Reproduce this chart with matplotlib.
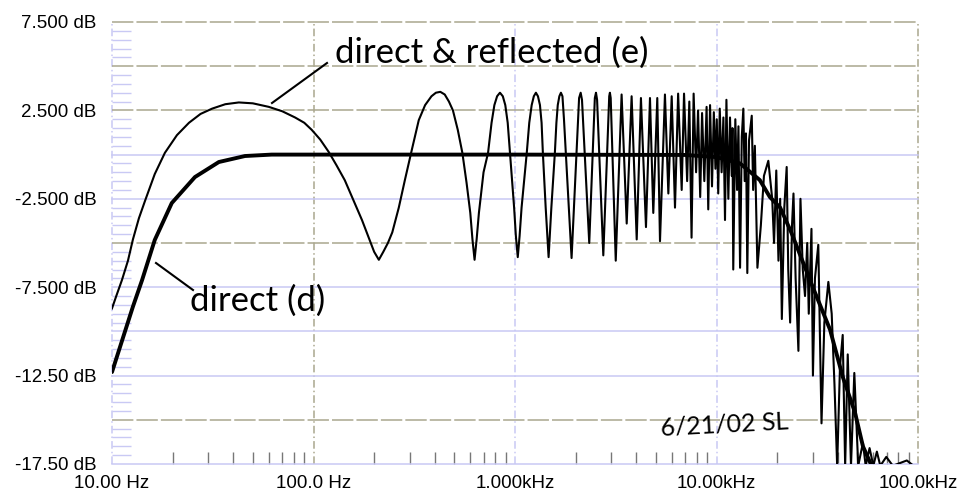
import matplotlib.pyplot as plt
import matplotlib.ticker as mticker

# direct (d) response
freq_direct = [10, 12.7, 14.1, 16.3, 19.8, 25.8, 33.9, 45.7, 62, 1000, 7000,
               10000, 13100, 16400, 18400, 20700, 23500, 29100, 36600, 42400,
               48700, 53300, 57800, 60000]
db_direct = [-12.3, -8.6, -7.1, -4.83, -2.74, -1.27, -0.42, -0.08, 0.0, 0.0, -0.02,
             -0.14, -0.5, -1.44, -2.4, -3.0, -4.4, -7.1, -9.9, -12.6,
             -14.6, -16.5, -17.4, -17.8]

# direct & reflected (e) response: (Hz, dB) pairs
refl_lobes = [
    (10, -8.7), (10.5, -8.0), (11.2, -7.1), (12.0, -6.0), (12.7, -4.8), (13.6, -3.6),
    (14.6, -2.6), (16.3, -1.1), (18.3, 0.1), (21, 1.1), (24.1, 1.8), (27.5, 2.3),
    (31.4, 2.6), (36.5, 2.85), (42.6, 2.95), (50, 2.9), (60, 2.7), (70, 2.45),
    (81, 2.1), (90, 1.8), (98, 1.4), (108, 0.85), (119, 0.15), (130, -0.6),
    (143, -1.45), (158, -2.6), (174, -3.7), (188, -4.7), (200, -5.5), (211, -5.95),
    (222, -5.5), (234, -5.0), (246, -4.4), (265, -3.0), (284, -1.45), (308, 0.3),
    (333, 1.95), (358, 2.8), (385, 3.3), (405, 3.5), (426, 3.55), (448, 3.4),
    (470, 3.0), (492, 2.5), (520, 1.4), (548, 0.1), (575, -1.6), (600, -3.3),
    (615, -4.8), (630, -5.95), (645, -4.8), (662, -3.3), (698, -1.0), (735, 0.1),
    (765, 1.8), (790, 2.8), (815, 3.3), (842, 3.5), (870, 3.3), (895, 2.8),
    (920, 1.8), (944, 0.1), (990, -3.0), (1010, -4.6), (1032, -5.8), (1054, -4.6),
    (1078, -3.0), (1144, 0.1), (1177, 1.8), (1210, 2.8), (1240, 3.3), (1270, 3.5),
    (1300, 3.3), (1330, 2.8), (1355, 1.8), (1375, 0.1), (1420, -3.0), (1468, -5.8),
    (1515, -3.0), (1577, 0.1), (1605, 1.8), (1630, 2.8), (1660, 3.3), (1690, 3.5),
    (1720, 3.3), (1750, 2.0),
]
refl_spikes = [
    (1909, -5.85), (2080, 3.2), (2118, 3.5), (2150, 3.1), (2336, -5.0), (2490, 3.2),
    (2523, 3.5), (2555, 3.1), (2743, -5.7), (2935, 3.3), (2958, 3.5), (2985, 3.2),
    (3162, -6.0), (3381, 3.4), (3584, -3.9), (3791, 3.3), (4018, -4.8), (4217, 3.2),
    (4467, -4.1), (4676, 3.2), (4856, -3.3), (5083, 3.2), (5243, -4.9), (5548, 3.4),
    (5768, -2.2), (5993, 3.3), (6223, -3.0), (6450, 3.45), (6718, -2.0), (6900, 3.45),
    (7150, -1.5), (7330, 3.0), (7520, -4.7), (7700, 3.45), (7920, -1.0), (8100, 2.5),
    (8300, -2.4), (8480, 2.35), (8700, -1.5), (8930, 2.7), (9100, -3.1), (9290, 2.8),
    (9500, -1.8), (9700, 2.4), (9880, -0.8), (10030, 2.0), (10200, -2.2), (10380, 2.6),
    (10600, -1.0), (10820, 2.1), (11020, -3.7), (11200, 3.1), (11450, -2.5),
    (11670, 2.1), (11900, -1.2), (12000, 1.5), (12110, -6.5), (12400, 2.0),
    (12650, -2.0), (12850, 1.6), (13090, -6.4), (13350, 1.0), (13590, 2.6),
    (13800, -1.5), (14000, 1.2), (14220, -6.7), (14500, 0.8), (14960, 2.2),
    (15200, -2.0), (15500, 0.5), (15960, -6.4), (16600, -4.0), (17200, -1.2),
    (18080, -0.35), (18900, -2.5), (19300, -5.0), (19800, -0.9), (20300, -6.0),
    (20700, -2.5), (21100, -9.3), (21700, -3.0), (22300, -0.7), (22700, -6.5),
    (23200, -9.5), (23700, -4.0), (24100, -2.2), (24700, -7.0), (25500, -11.1),
    (26100, -2.5), (26800, -6.5), (27500, -8.0), (28200, -5.0), (28700, -9.0),
    (29600, -4.2), (30100, -12.5), (30800, -7.0), (32000, -5.1), (33200, -15.2),
    (34300, -9.5), (35900, -7.2), (37300, -9.0), (38500, -13.0), (39700, -17.6),
    (41000, -12.0), (42300, -10.2), (43500, -17.6), (44800, -11.3), (46500, -17.6),
    (48300, -12.35), (50500, -17.6), (53300, -16.3), (55000, -17.6), (57500, -16.6),
    (60000, -17.6), (62500, -16.8), (65000, -17.6), (69600, -17.1), (75000, -17.6),
    (88000, -17.3), (95000, -17.6),
]
freq_refl = [f for f, _ in refl_lobes + refl_spikes]
db_refl = [v for _, v in refl_lobes + refl_spikes]

x_ticks = [10, 100, 1000, 10000, 100000]
x_labels = ["10.00 Hz", "100.0 Hz", "1.000kHz", "10.00kHz", "100.0kHz"]
y_ticks = [7.5, 5.0, 2.5, 0.0, -2.5, -5.0, -7.5, -10.0, -12.5, -15.0, -17.5]
y_labels = ["7.500 dB", "", "2.500 dB", "", "-2.500 dB", "", "-7.500 dB", "",
            "-12.50 dB", "", "-17.50 dB"]

olive = "#aaa78e"
blue = "#c9c9f4"
ygrid_colors = [olive, olive, olive, blue, blue, olive, blue, blue, blue, olive, blue]
xgrid_colors = [blue, olive, blue, blue, olive]

fig = plt.figure(figsize=(9.68, 4.97), dpi=100)
ax = fig.add_axes([112 / 968, 1 - 464 / 497, 806 / 968, 442 / 497])

ax.set_xscale("log")
ax.set_xlim(10, 100000)
ax.set_ylim(-17.5, 7.5)

ax.plot(freq_refl, db_refl, color="black", lw=1.5, solid_joinstyle="round", zorder=3)
ax.plot(freq_direct, db_direct, color="black", lw=2.8, solid_capstyle="round", zorder=4)

for s in ax.spines.values():
    s.set_visible(False)

ax.set_xticks(x_ticks)
ax.set_xticklabels(x_labels, fontsize=13.5, fontfamily="Liberation Sans")
ax.set_yticks(y_ticks)
ax.set_yticklabels(y_labels, fontsize=13.5, fontfamily="Liberation Sans")
ax.tick_params(axis="both", which="major", length=0)
ax.tick_params(axis="x", which="major", pad=8)
ax.tick_params(axis="y", which="major", pad=11)

ax.xaxis.set_minor_locator(mticker.LogLocator(base=10, subs=range(2, 10)))
ax.xaxis.set_minor_formatter(mticker.NullFormatter())
ax.tick_params(axis="x", which="minor", direction="in", length=9, width=1, color="#777777")
ax.yaxis.set_minor_locator(mticker.MultipleLocator(0.5))
ax.tick_params(axis="y", which="minor", direction="in", length=14, width=1, color=blue)

ax.grid(True, which="major", lw=1.1)
for line, c in zip(ax.get_ygridlines(), ygrid_colors):
    line.set_color(c)
    line.set_clip_on(False)
    if c == olive:
        line.set_linestyle((0, (14, 2)))
for line, c in zip(ax.get_xgridlines(), xgrid_colors):
    line.set_color(c)
    line.set_linestyle((0, (5, 2, 1, 2)))
    line.set_clip_on(False)

hand = dict(fontfamily="Lato", color="black", va="center")
ax.text(0.277, 0.93, "direct & reflected (e)", transform=ax.transAxes, fontsize=25, **hand)
ax.plot([272 / 968, 327 / 968], [1 - 103 / 497, 1 - 63 / 497], transform=fig.transFigure,
        color="black", lw=1.5)
ax.text(0.097, 0.37, "direct (d)", transform=ax.transAxes, fontsize=25, **hand)
ax.plot([156 / 968, 193 / 968], [1 - 263 / 497, 1 - 290 / 497], transform=fig.transFigure,
        color="black", lw=1.5)
ax.text(0.68, 0.088, "6/21/02 SL", transform=ax.transAxes, fontsize=18, rotation=3, **hand)

fig.savefig("out.png", dpi=100)
